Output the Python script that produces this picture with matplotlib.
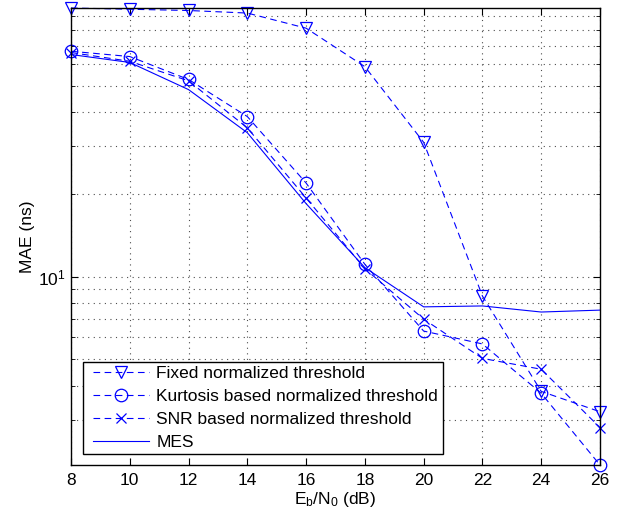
import matplotlib
matplotlib.use("Agg")
import matplotlib.pyplot as plt
from matplotlib.patches import Rectangle
from matplotlib.ticker import LogLocator, NullFormatter, FixedLocator

plt.rcParams["font.family"] = ["Liberation Sans", "DejaVu Sans"]
plt.rcParams["mathtext.default"] = "regular"
plt.rcParams["font.size"] = 12.5

# data (Eb/N0 in dB vs MAE in ns)
ebn0 = [8, 10, 12, 14, 16, 18, 20, 22, 24, 26]
mae_fixed = [96, 95, 94, 92, 81, 58.6, 31, 8.5, 3.81, 3.21]
mae_kurtosis = [66.7, 63.8, 52.6, 38.5, 22, 11.1, 6.33, 5.68, 3.75, 2.05]
mae_snr = [66, 61.3, 52, 35, 19.4, 10.7, 7.0, 5.03, 4.59, 2.81]
mae_mes = [64.9, 60.7, 48.3, 33.6, 18.5, 10.8, 7.76, 7.82, 7.43, 7.55]

labels = [
    "Fixed normalized threshold",
    "Kurtosis based normalized threshold",
    "SNR based normalized threshold",
    "MES",
]

fig = plt.figure(figsize=(6.24, 5.16), dpi=100)
ax = fig.add_axes([0.1138, 0.0988, 0.8477, 0.8857])

blue = (0, 0, 1)
dash = (0, (6, 4))
ax.plot(ebn0, mae_fixed, color=blue, ls=dash, lw=0.8, marker="v",
        ms=9, mfc="none", mew=0.9, label=labels[0], clip_on=False)
ax.plot(ebn0, mae_kurtosis, color=blue, ls=dash, lw=0.8, marker="o",
        ms=9, mfc="none", mew=0.9, label=labels[1], clip_on=False)
ax.plot(ebn0, mae_snr, color=blue, ls=dash, lw=0.8, marker="x",
        ms=7, mew=0.9, label=labels[2], clip_on=False)
ax.plot(ebn0, mae_mes, color=blue, ls="-", lw=0.8, label=labels[3],
        clip_on=False)

ax.set_yscale("log")
ax.set_xlim(min(ebn0), max(ebn0))
ax.set_ylim(min(mae_kurtosis), max(mae_fixed))
ax.xaxis.set_major_locator(FixedLocator(ebn0))
ax.yaxis.set_major_locator(LogLocator(base=10))
ax.yaxis.set_minor_locator(LogLocator(base=10, subs=range(2, 10)))
ax.yaxis.set_minor_formatter(NullFormatter())

ax.grid(True, which="major", ls=(0, (1, 4)), color="0.3", lw=0.8)
ax.grid(True, which="minor", axis="y", ls=(0, (1, 4)), color="0.3", lw=0.8)
ax.tick_params(which="both", direction="in", top=True, right=True,
               labelsize=12.5)
ax.tick_params(axis="x", pad=6)
ax.tick_params(axis="y", pad=4)
ax.tick_params(which="major", length=5)
ax.tick_params(which="minor", length=3)
for s in ax.spines.values():
    s.set_linewidth(1.0)

ax.set_xlabel(r"E$_{b}$/N$_{0}$ (dB)", fontsize=12.5, labelpad=1)
ax.set_ylabel("MAE (ns)", fontsize=12.5, labelpad=2)

# legend box drawn by hand so its width matches the reference
box = Rectangle((0.0227, 0.024), 0.68, 0.2014, transform=ax.transAxes,
                facecolor="white", edgecolor="black", lw=1.0, zorder=4.9)
ax.add_patch(box)
leg = ax.legend(loc="center left", bbox_to_anchor=(0.030, 0.1247),
                fontsize=12.5, frameon=False, handlelength=3.2,
                handletextpad=0.45, borderpad=0.35, labelspacing=0.45,
                borderaxespad=0)

fig.savefig("out.png", dpi=100)
